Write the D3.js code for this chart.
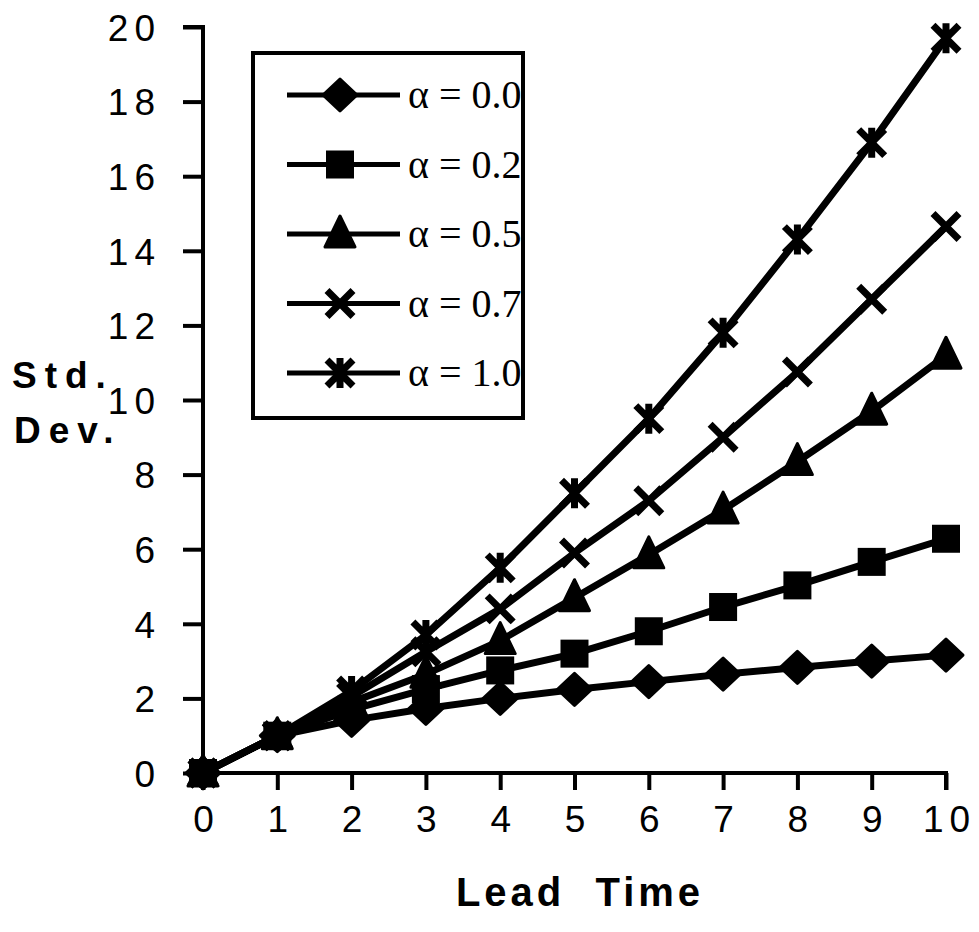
<!DOCTYPE html>
<html>
<head>
<meta charset="utf-8">
<script src="https://cdn.jsdelivr.net/npm/d3@7"></script>
<style>
  body { margin: 0; background: #fff; }
  svg { display: block; }
</style>
</head>
<body>
<svg id="chart" width="979" height="932"></svg>
<script>
// lead times on the x axis
const leadTimes = [0, 1, 2, 3, 4, 5, 6, 7, 8, 9, 10];
const yTicks = [0, 2, 4, 6, 8, 10, 12, 14, 16, 18, 20];

// std. dev. per alpha
const alpha00 = [0, 1.0, 1.41, 1.73, 2.0, 2.24, 2.45, 2.65, 2.83, 3.0, 3.16];
const alpha02 = [0, 1.0, 1.7, 2.25, 2.75, 3.2, 3.8, 4.45, 5.03, 5.66, 6.28];
const alpha05 = [0, 1.0, 1.9, 2.65, 3.55, 4.7, 5.85, 7.05, 8.35, 9.7, 11.2];
const alpha07 = [0, 1.0, 2.05, 3.25, 4.4, 5.9, 7.3, 9.0, 10.75, 12.7, 14.65];
const alpha10 = [0, 1.0, 2.2, 3.7, 5.5, 7.5, 9.5, 11.8, 14.3, 16.9, 19.7];

const seriesNames = ["\u03b1 = 0.0", "\u03b1 = 0.2", "\u03b1 = 0.5", "\u03b1 = 0.7", "\u03b1 = 1.0"];
const seriesValues = [alpha00, alpha02, alpha05, alpha07, alpha10];
const seriesMarkers = ["diamond", "square", "triangle", "cross", "star"];

const svg = d3.select("#chart");
const x = d3.scaleLinear().domain([0, 10]).range([203, 946]);
const y = d3.scaleLinear().domain([0, 20]).range([773, 27]);

// marker drawing, filled shapes or stroked crosses
function drawMarker(g, type, cx, cy) {
  if (type === "diamond") {
    g.append("path")
      .attr("d", `M${cx - 17},${cy} L${cx},${cy - 16} L${cx + 17},${cy} L${cx},${cy + 16} Z`)
      .attr("fill", "#000").attr("stroke", "#000").attr("stroke-width", 3)
      .attr("stroke-linejoin", "round");
  } else if (type === "square") {
    g.append("rect")
      .attr("x", cx - 14).attr("y", cy - 14)
      .attr("width", 28).attr("height", 28)
      .attr("fill", "#000");
  } else if (type === "triangle") {
    g.append("path")
      .attr("d", `M${cx},${cy - 18} L${cx + 15},${cy + 13} L${cx - 15},${cy + 13} Z`)
      .attr("fill", "#000").attr("stroke", "#000").attr("stroke-width", 3)
      .attr("stroke-linejoin", "round");
  } else if (type === "cross" || type === "star") {
    const r = 13;
    let d = `M${cx - r},${cy - r} L${cx + r},${cy + r} M${cx - r},${cy + r} L${cx + r},${cy - r}`;
    if (type === "star") d += ` M${cx},${cy - r - 2} L${cx},${cy + r + 2}`;
    g.append("path")
      .attr("d", d)
      .attr("fill", "none").attr("stroke", "#000").attr("stroke-width", 7);
  }
}

// axes
const yAxis = d3.axisLeft(y).tickValues(yTicks).tickSize(20).tickPadding(24)
  .tickFormat(d3.format("d"));
const xAxis = d3.axisBottom(x).tickValues(leadTimes).tickSize(17).tickPadding(16)
  .tickFormat(d3.format("d"));

const gy = svg.append("g").attr("transform", "translate(203,0)").call(yAxis);
const gx = svg.append("g").attr("transform", "translate(0,773)").call(xAxis);

[gy, gx].forEach((g) => {
  g.select(".domain").attr("stroke", "#000").attr("stroke-width", 4);
  g.selectAll(".tick line").attr("stroke", "#000").attr("stroke-width", 4);
  g.selectAll(".tick text")
    .attr("fill", "#000")
    .style("font-family", "Liberation Sans, Arial, sans-serif")
    .style("font-size", "37px")
    .style("letter-spacing", "6px");
});
gy.select(".domain").attr("d", `M-20,${y(20)}H0V${y(0)}`);
gx.select(".domain").attr("d", `M${x(0)},17V0H${x(10)}V17`);
gy.selectAll(".tick text").attr("dy", "0.36em").attr("x", -42);
gx.selectAll(".tick text").attr("dx", "3px");

// series lines and markers
const line = d3.line().x((d, i) => x(leadTimes[i])).y((d) => y(d));
seriesValues.forEach((vals, s) => {
  const g = svg.append("g");
  g.append("path")
    .datum(vals)
    .attr("d", line)
    .attr("fill", "none")
    .attr("stroke", "#000")
    .attr("stroke-width", 7)
    .attr("stroke-linejoin", "round");
  vals.forEach((v, i) => drawMarker(g, seriesMarkers[s], x(leadTimes[i]), y(v)));
});

// legend
const legend = svg.append("g");
legend.append("rect")
  .attr("x", 253).attr("y", 53).attr("width", 270).attr("height", 365)
  .attr("fill", "#fff").attr("stroke", "#000").attr("stroke-width", 4);
const legendY = d3.scalePoint().domain(seriesNames).range([95, 373]);
seriesNames.forEach((name, s) => {
  const ly = legendY(name);
  legend.append("line")
    .attr("x1", 287).attr("x2", 400).attr("y1", ly).attr("y2", ly)
    .attr("stroke", "#000").attr("stroke-width", 5);
  drawMarker(legend, seriesMarkers[s], 340, ly);
  legend.append("text")
    .attr("x", 408).attr("y", ly + 13)
    .style("font-family", "Liberation Serif, Times New Roman, serif")
    .style("font-size", "40px")
    .text(name);
});

// axis titles
svg.append("text")
  .attr("x", 12).attr("y", 388)
  .style("font-family", "Liberation Sans, Arial, sans-serif")
  .style("font-weight", "bold").style("font-size", "37px")
  .style("letter-spacing", "8px")
  .text("Std.");
svg.append("text")
  .attr("x", 14).attr("y", 443)
  .style("font-family", "Liberation Sans, Arial, sans-serif")
  .style("font-weight", "bold").style("font-size", "37px")
  .style("letter-spacing", "8px")
  .text("Dev.");
svg.append("text")
  .attr("x", 580).attr("y", 906)
  .attr("text-anchor", "middle")
  .attr("xml:space", "preserve")
  .style("white-space", "pre")
  .style("font-family", "Liberation Sans, Arial, sans-serif")
  .style("font-weight", "bold").style("font-size", "40px")
  .style("letter-spacing", "4px")
  .text("Lead  Time");
</script>
</body>
</html>
